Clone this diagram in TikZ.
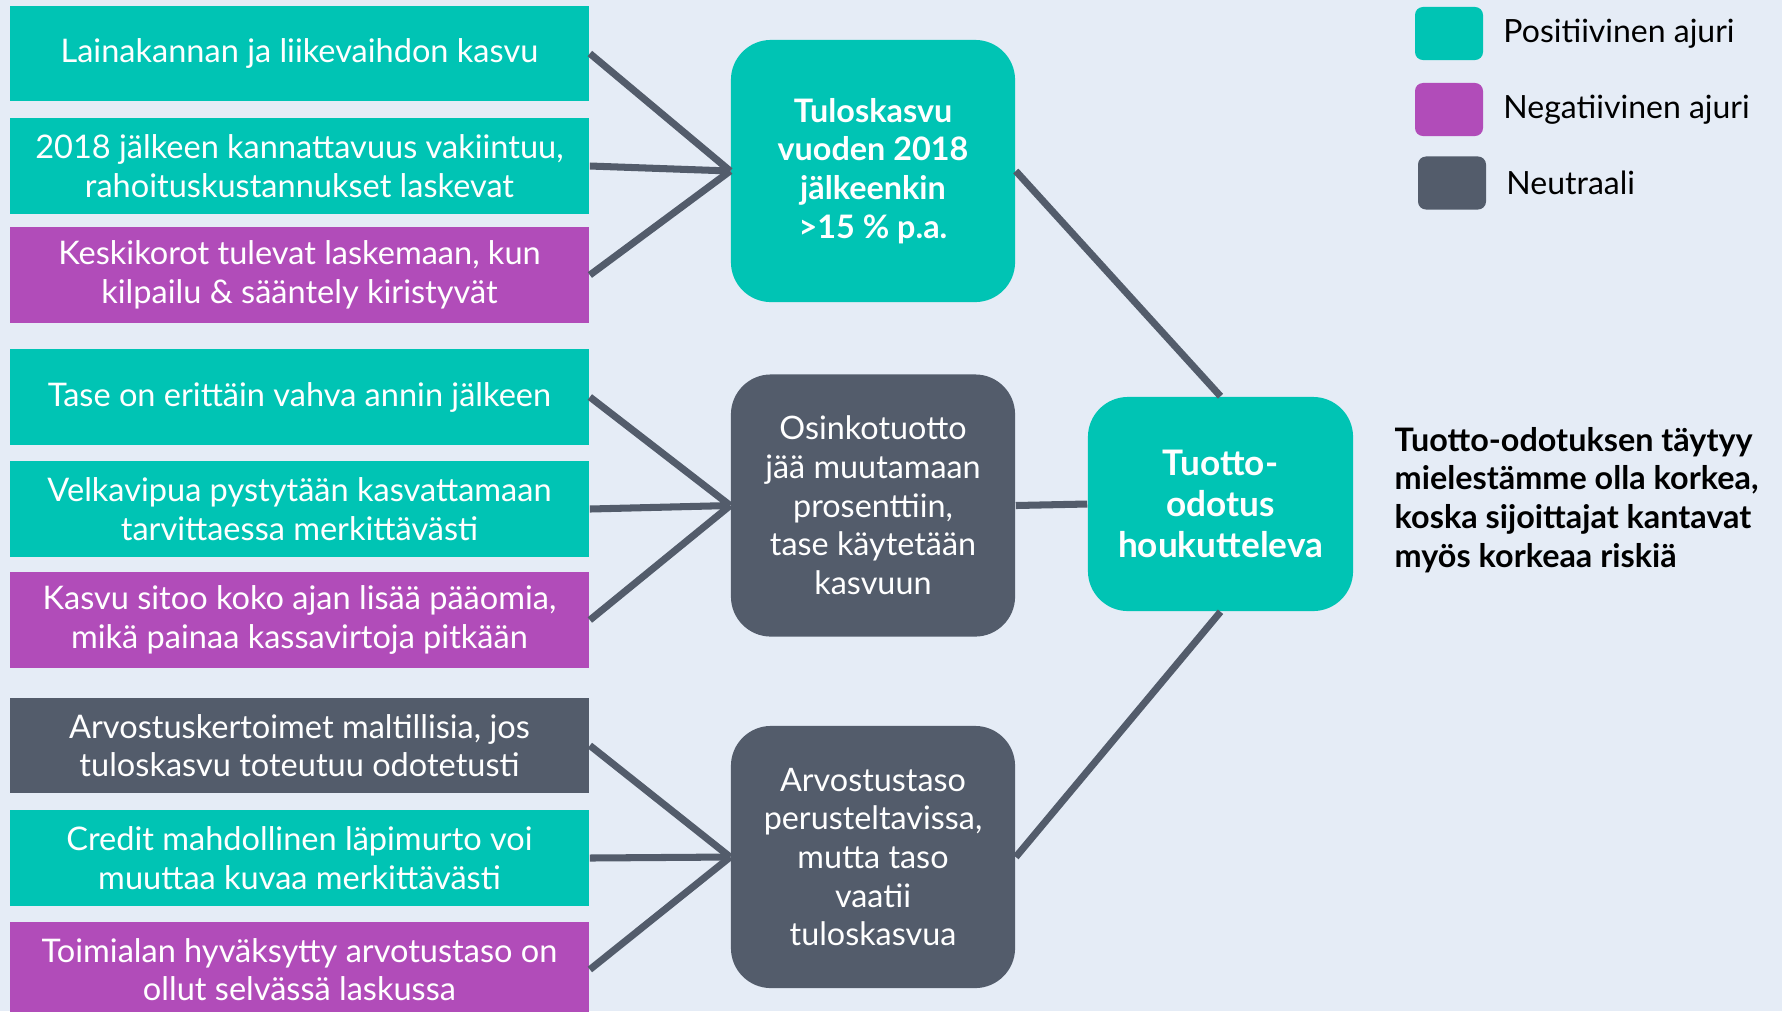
\documentclass[tikz,border=0pt]{standalone}
\usepackage{fontspec}
\setmainfont{Lato}
\usetikzlibrary{positioning}
\definecolor{ajuripos}{RGB}{0,196,180}
\definecolor{ajurineg}{RGB}{177,76,185}
\definecolor{ajurineu}{RGB}{83,92,107}
\definecolor{ajuribg}{RGB}{229,236,246}

\begin{document}
\begin{tikzpicture}[
  x=.01cm,y=-.01cm,
  driver/.style={minimum width=5.79cm,minimum height=.95cm,inner sep=0pt,
    align=center,text=white,font=\fontsize{9.25}{11}\selectfont},
  drvpos/.style={driver,fill=ajuripos},
  drvneg/.style={driver,fill=ajurineg},
  drvneu/.style={driver,fill=ajurineu},
  hub/.style={rounded corners=.4cm,minimum width=2.84cm,minimum height=2.62cm,
    inner sep=0pt,align=center,text=white,font=\fontsize{9.2}{11}\selectfont},
  link/.style={draw=ajurineu,line width=2pt},
  legendkey/.style={rounded corners=.08cm,minimum width=.68cm,minimum height=.53cm,inner sep=0pt},
  note/.style={anchor=west,align=left,inner sep=0pt,font=\fontsize{9.1}{11}\selectfont},
]
  \fill[ajuribg] (0,0) rectangle (1782,1011);
  \useasboundingbox (0,0) rectangle (1782,1011);

  % Drivers behind earnings growth.
  \node[drvpos] (l1) at (299.5,53.5) {Lainakannan ja liikevaihdon kasvu};
  \node[drvpos] (l2) at (299.5,166) {2018 jälkeen kannattavuus vakiintuu,\\rahoituskustannukset laskevat};
  \node[drvneg] (l3) at (299.5,275) {Keskikorot tulevat laskemaan, kun\\kilpailu \& sääntely kiristyvät};

  % Drivers behind dividend yield.
  \node[drvpos] (l4) at (299.5,397) {Tase on erittäin vahva annin jälkeen};
  \node[drvpos] (l5) at (299.5,509) {Velkavipua pystytään kasvattamaan\\tarvittaessa merkittävästi};
  \node[drvneg] (l6) at (299.5,620) {Kasvu sitoo koko ajan lisää pääomia,\\mikä painaa kassavirtoja pitkään};

  % Drivers behind valuation.
  \node[drvneu] (l7) at (299.5,745.5) {Arvostuskertoimet maltillisia, jos\\tuloskasvu toteutuu odotetusti};
  \node[drvpos] (l8) at (299.5,858) {Credit mahdollinen läpimurto voi\\muuttaa kuvaa merkittävästi};
  \node[drvneg] (l9) at (299.5,969.5) {Toimialan hyväksytty arvotustaso on\\ollut selvässä laskussa};

  \node[hub,fill=ajuripos,font=\fontsize{9.2}{11}\selectfont\bfseries] (h1) at (873,171)
    {Tuloskasvu\\vuoden 2018\\jälkeenkin\\>15 \% p.a.};
  \node[hub,fill=ajurineu] (h2) at (873,505.5)
    {Osinkotuotto\\jää muutamaan\\prosenttiin,\\tase käytetään\\kasvuun};
  \node[hub,fill=ajurineu] (h3) at (873,857)
    {Arvostustaso\\perusteltavissa,\\mutta taso\\vaatii\\tuloskasvua};

  \node[hub,fill=ajuripos,minimum width=2.65cm,minimum height=2.14cm,
    font=\fontsize{10}{11.7}\selectfont\bfseries] (goal) at (1220.5,504)
    {Tuotto-\\odotus\\houkutteleva};
  \node[note,font=\fontsize{9.2}{11}\selectfont\bfseries] (why) at (1394,500)
    {Tuotto-odotuksen täytyy\\mielestämme olla korkea,\\koska sijoittajat kantavat\\myös korkeaa riskiä};

  \foreach \i in {1,2,3} \draw[link] (l\i.east) -- (h1.west);
  \foreach \i in {4,5,6} \draw[link] (l\i.east) -- (h2.west);
  \foreach \i in {7,8,9} \draw[link] (l\i.east) -- (h3.west);
  \draw[link] (h1.east) -- (goal.north);
  \draw[link] (h2.east) -- (goal.west);
  \draw[link] (h3.east) -- (goal.south);

  % Legend keys, top right.
  \node[legendkey,fill=ajuripos] (kpos) at (1449,33.5) {};
  \node[legendkey,fill=ajurineg] (kneg) at (1449,109.5) {};
  \node[legendkey,fill=ajurineu] (kneu) at (1452,183) {};
  \node[note,right=.19cm of kpos] {Positiivinen ajuri};
  \node[note,right=.19cm of kneg] {Negatiivinen ajuri};
  \node[note,right=.19cm of kneu] {Neutraali};
\end{tikzpicture}
\end{document}
